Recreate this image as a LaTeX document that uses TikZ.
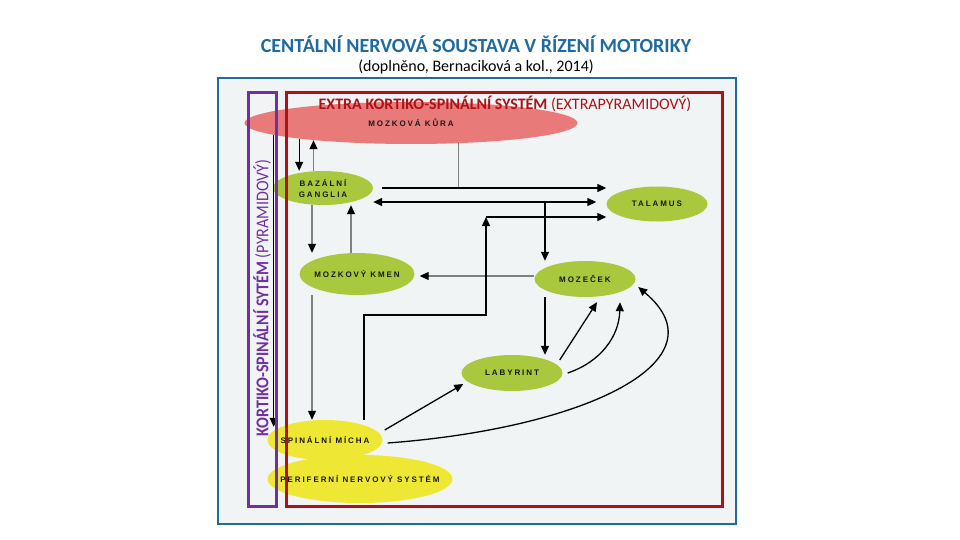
\documentclass[tikz,border=0pt]{standalone}
\usepackage{fontspec}
\setmainfont{Carlito}
\newfontfamily\uzelfont[LetterSpace=24]{Liberation Sans}
\usetikzlibrary{shapes.geometric,arrows.meta}

\definecolor{cnsblue}{RGB}{31,107,160}
\definecolor{bgfill}{RGB}{240,244,245}
\definecolor{extrared}{RGB}{172,18,24}
\definecolor{pyrpurple}{RGB}{112,48,160}
\definecolor{kurapink}{RGB}{232,122,122}
\definecolor{uzelgreen}{RGB}{168,200,62}
\definecolor{michayellow}{RGB}{238,232,52}

\begin{document}
\begin{tikzpicture}[x=1pt,y=-1pt,
    >={Triangle[length=9pt,width=8pt,color=black]},
    uzel/.style={ellipse,inner xsep=-18pt,inner ysep=0pt,align=center,
      font=\uzelfont\bfseries\fontsize{8}{11}\selectfont,text=black!90},
    spoj/.style={->,line width=1.3pt},
    sedy/.style={->,line width=1.1pt,draw=gray}]

    \fill[white] (0,0) rectangle (960,540);
    \useasboundingbox (0,0) rectangle (960,540);
    \draw[cnsblue,line width=2.5pt,fill=bgfill] (218,78) rectangle (736,524);

    \begin{scope}[every node/.style={uzel}]
      \node[fill=kurapink,minimum width=333pt,minimum height=42pt] (kura) at (411,123) {MOZKOVÁ KŮRA};
      \node[fill=uzelgreen,minimum width=100pt,minimum height=34pt] (bazal) at (323,188) {BAZÁLNÍ\\GANGLIA};
      \node[fill=uzelgreen,minimum width=101pt,minimum height=35pt] (talamus) at (657,204) {TALAMUS};
      \node[fill=uzelgreen,minimum width=115pt,minimum height=42pt] (kmen) at (357,274) {MOZKOVÝ KMEN};
      \node[fill=uzelgreen,minimum width=101pt,minimum height=36pt] (mozecek) at (585,279) {MOZEČEK};
      \node[fill=uzelgreen,minimum width=101pt,minimum height=36pt] (labyrint) at (512,373) {LABYRINT};
      \node[fill=michayellow,minimum width=185pt,minimum height=48pt] (perif) at (360,479) {PERIFERNÍ NERVOVÝ SYSTÉM};
      \node[fill=michayellow,minimum width=115pt,minimum height=40pt] (spinal) at (325,440) {SPINÁLNÍ MÍCHA};
    \end{scope}

    \coordinate (c1) at (545,202);
    \coordinate (r1) at (486,315);
    \coordinate (r2) at (486,217);

    % kura - bazalni ganglia - talamus
    \draw[spoj] (kura.188) -- (kura.188 |- bazal.north);
    \draw[sedy] (kura.190 |- bazal.north) -- (kura.190);
    \draw[sedy,-] (kura.337) -- (kura.337 |- bazal.east);
    \draw[spoj] ([xshift=9pt]bazal.east) -- (bazal.east -| talamus.west);
    \draw[spoj,<->] ([yshift=-14pt]bazal.east) -- ([xshift=-10pt,yshift=2pt]talamus.west);
    \draw[spoj] (c1) -- (c1 |- mozecek.north);

    % kmen
    \draw[sedy] ([xshift=-11pt]bazal.south) -- ([xshift=-45pt]kmen.north);
    \draw[sedy] ([xshift=-6pt]kmen.north) -- ([xshift=28pt]bazal.south);
    \draw[sedy] ([yshift=3pt]mozecek.west) -- ([xshift=5pt,yshift=-2pt]kmen.east);
    \draw[sedy] ([xshift=-45pt]kmen.south) -- ([xshift=-13pt]spinal.north);

    % mozecek - labyrint
    \draw[spoj] ([xshift=-40pt]mozecek.south) -- ([xshift=33pt]labyrint.north);
    \draw[spoj] ([xshift=-3pt,yshift=13pt]labyrint.east) -- ([xshift=12pt,yshift=-5pt]mozecek.south);
    \draw[spoj] ([xshift=5pt]labyrint.east) to[bend right=35] ([xshift=35pt,yshift=-5pt]mozecek.south);

    % spinalni micha
    \draw[spoj] ([xshift=2pt,yshift=10pt]spinal.east) -- ([xshift=2pt,yshift=-11pt]labyrint.west);
    \draw[spoj] ([xshift=5pt,yshift=-3pt]spinal.east) .. controls +(200,-15) and +(87,73) .. ([xshift=2.5pt,yshift=-8pt]mozecek.east);
    \draw[spoj] ([xshift=39pt]spinal.north) |- (r1) -- (r2);
    \draw[spoj] (r2) -- (r2 -| talamus.west);
    \draw[spoj,shorten >=-7pt] (kura.185) -- (kura.185 |- spinal.north);

    % systemy
    \draw[extrared,line width=3pt] (286,93) rectangle (722,506);
    \draw[pyrpurple,line width=3pt] (248,93) rectangle (276,506);

    \node[text=cnsblue,font=\bfseries\fontsize{20}{24}\selectfont] (nadpis) at (476,44) {CENTÁLNÍ NERVOVÁ SOUSTAVA V ŘÍZENÍ MOTORIKY};
    \node[font=\fontsize{16}{18}\selectfont] (zdroj) at (476,67) {(doplněno, Bernaciková a kol., 2014)};
    \node[text=extrared,font=\fontsize{16}{18}\selectfont] (extra) at (505,104) {\textbf{EXTRA KORTIKO-SPINÁLNÍ SYSTÉM} (EXTRAPYRAMIDOVÝ)};
    \node[text=pyrpurple,font=\fontsize{18}{20}\selectfont,rotate=90,xscale=0.89] (pyr) at (262,298) {\textbf{KORTIKO-SPINÁLNÍ SYTÉM} (PYRAMIDOVÝ)};

\end{tikzpicture}
\end{document}
